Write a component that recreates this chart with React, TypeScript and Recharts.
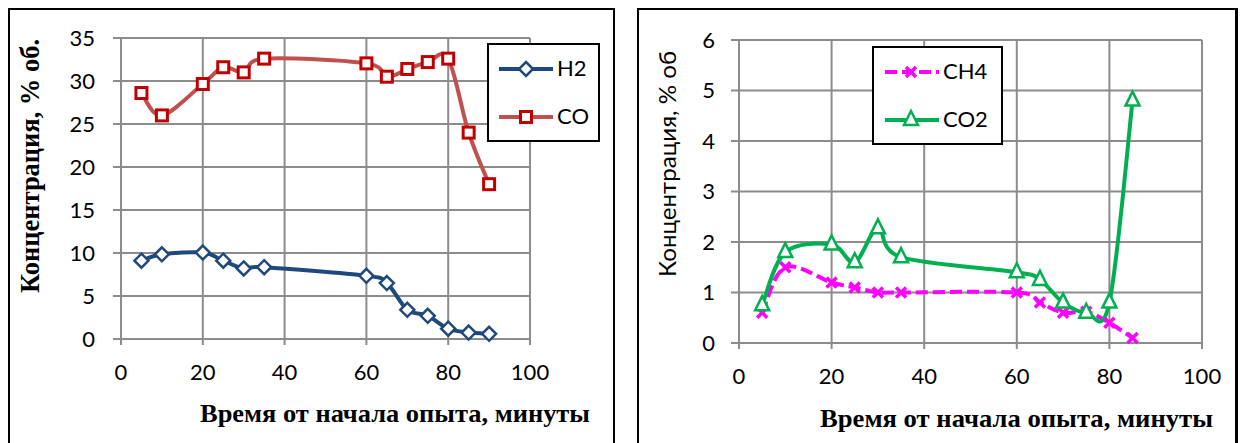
import React from 'react';
import { LineChart, Line, XAxis, YAxis, CartesianGrid } from 'recharts';

// time from start of the run, minutes
const leftMinutes = [5, 10, 20, 25, 30, 35, 60, 65, 70, 75, 80, 85, 90];
const h2Values = [9.1, 9.85, 10.05, 9.1, 8.2, 8.35, 7.35, 6.5, 3.4, 2.7, 1.2, 0.75, 0.6];
const coValues = [28.6, 26.0, 29.65, 31.6, 31.0, 32.6, 32.05, 30.5, 31.4, 32.2, 32.6, 24.0, 18.0];

const rightMinutes = [5, 10, 20, 25, 30, 35, 60, 65, 70, 75, 80, 85];
const ch4Values = [0.6, 1.5, 1.2, 1.1, 1.0, 1.0, 1.0, 0.8, 0.6, 0.62, 0.4, 0.1];
const co2Values = [0.75, 1.8, 1.95, 1.6, 2.27, 1.7, 1.4, 1.25, 0.8, 0.6, 0.8, 4.8];

const xTicks = [0, 20, 40, 60, 80, 100];
const leftYTicks = [0, 5, 10, 15, 20, 25, 30, 35];
const rightYTicks = [0, 1, 2, 3, 4, 5, 6];

const xTitle = 'Время от начала опыта, минуты';
const leftYTitle = 'Концентрация, % об.';
const rightYTitle = 'Концентрация, % об';

const leftData = leftMinutes.map((x, i) => ({ x, h2: h2Values[i], co: coValues[i] }));
const rightData = rightMinutes.map((x, i) => ({ x, ch4: ch4Values[i], co2: co2Values[i] }));

const SANS = 'Lato, "Open Sans", sans-serif';
const SERIF = '"Liberation Serif", "DejaVu Serif", serif';
const GRID = '#8c8c8c';

const H2_COLOR = '#1F497D';
const CO_LINE = '#C0504D';
const CO_MARK = '#C00000';
const CH4_COLOR = '#FF00FF';
const CO2_COLOR = '#00B050';

// Excel-like smoothed line (Catmull-Rom through the points)
const excelSmooth = (context: any) => {
  let pts: number[][] = [];
  return {
    areaStart() {},
    areaEnd() {},
    lineStart() {
      pts = [];
    },
    point(x: number, y: number) {
      pts.push([+x, +y]);
    },
    lineEnd() {
      const n = pts.length;
      if (!n) return;
      context.moveTo(pts[0][0], pts[0][1]);
      for (let i = 0; i < n - 1; i++) {
        const p0 = pts[Math.max(i - 1, 0)];
        const p1 = pts[i];
        const p2 = pts[i + 1];
        const p3 = pts[Math.min(i + 2, n - 1)];
        context.bezierCurveTo(
          p1[0] + (p2[0] - p0[0]) / 6,
          p1[1] + (p2[1] - p0[1]) / 6,
          p2[0] - (p3[0] - p1[0]) / 6,
          p2[1] - (p3[1] - p1[1]) / 6,
          p2[0],
          p2[1]
        );
      }
    },
  };
};

// markers
const Diamond = ({ cx, cy }: any) => (
  <path d={`M${cx},${cy - 7} L${cx + 7},${cy} L${cx},${cy + 7} L${cx - 7},${cy} Z`} fill="#fff" stroke={H2_COLOR} strokeWidth={2.5} />
);
const Square = ({ cx, cy }: any) => (
  <rect x={cx - 5.5} y={cy - 5.5} width={11} height={11} fill="#fff" stroke={CO_MARK} strokeWidth={3} />
);
const Cross = ({ cx, cy }: any) => (
  <path d={`M${cx - 5},${cy - 5} L${cx + 5},${cy + 5} M${cx + 5},${cy - 5} L${cx - 5},${cy + 5}`} stroke={CH4_COLOR} strokeWidth={3.5} fill="none" />
);
const Triangle = ({ cx, cy }: any) => (
  <path d={`M${cx},${cy - 9} L${cx + 7},${cy + 5} L${cx - 7},${cy + 5} Z`} fill="#fff" stroke={CO2_COLOR} strokeWidth={2.5} />
);

const dotOf = (Comp: any) => (props: any) => <Comp key={`d-${props.index}`} cx={props.cx} cy={props.cy} />;

const tickStyle = { fill: '#000', fontSize: 22, fontFamily: SANS };

export default function App() {
  return (
    <div style={{ position: 'absolute', left: 0, top: 0, width: 1240, height: 443, overflow: 'hidden', background: '#fff' }}>
      {/* panel frames */}
      <div style={{ position: 'absolute', left: 8, top: 8, width: 607, height: 480, border: '2px solid #000', boxSizing: 'border-box' }} />
      <div style={{ position: 'absolute', left: 637, top: 8, width: 601, height: 480, border: '2px solid #000', borderRightWidth: 3, boxSizing: 'border-box' }} />

      {/* left chart: H2, CO */}
      <div style={{ position: 'absolute', left: 0, top: 0 }}>
        <LineChart width={620} height={443} data={leftData} margin={{ top: 38, right: 90, bottom: 74, left: 81 }}>
          <CartesianGrid stroke={GRID} strokeWidth={2} />
          <XAxis
            type="number"
            dataKey="x"
            domain={[0, 100]}
            ticks={xTicks}
            height={30}
            tick={tickStyle}
            tickSize={6}
            tickMargin={19}
            stroke={GRID}
            strokeWidth={2}
          />
          <YAxis
            type="number"
            domain={[0, 35]}
            ticks={leftYTicks}
            width={40}
            tick={tickStyle}
            tickSize={8}
            tickMargin={18}
            stroke={GRID}
            strokeWidth={2}
          />
          <Line dataKey="h2" type={excelSmooth as any} stroke={H2_COLOR} strokeWidth={4} dot={dotOf(Diamond)} activeDot={false} isAnimationActive={false} />
          <Line dataKey="co" type={excelSmooth as any} stroke={CO_LINE} strokeWidth={4} dot={dotOf(Square)} activeDot={false} isAnimationActive={false} />
        </LineChart>
      </div>

      {/* right chart: CH4, CO2 */}
      <div style={{ position: 'absolute', left: 620, top: 0 }}>
        <LineChart width={620} height={443} data={rightData} margin={{ top: 40, right: 38, bottom: 70, left: 79 }}>
          <CartesianGrid stroke={GRID} strokeWidth={2} />
          <XAxis
            type="number"
            dataKey="x"
            domain={[0, 100]}
            ticks={xTicks}
            height={30}
            tick={tickStyle}
            tickSize={6}
            tickMargin={19}
            stroke={GRID}
            strokeWidth={2}
          />
          <YAxis
            type="number"
            domain={[0, 6]}
            ticks={rightYTicks}
            width={40}
            tick={tickStyle}
            tickSize={8}
            tickMargin={16}
            stroke={GRID}
            strokeWidth={2}
          />
          <Line dataKey="ch4" type={excelSmooth as any} stroke={CH4_COLOR} strokeWidth={4} strokeDasharray="12 5" dot={dotOf(Cross)} activeDot={false} isAnimationActive={false} />
          <Line dataKey="co2" type={excelSmooth as any} stroke={CO2_COLOR} strokeWidth={4} dot={dotOf(Triangle)} activeDot={false} isAnimationActive={false} />
        </LineChart>
      </div>

      {/* titles and legends */}
      <svg width={1240} height={443} style={{ position: 'absolute', left: 0, top: 0, pointerEvents: 'none' }}>
        <text x={200} y={422} fontFamily={SERIF} fontWeight="bold" fontSize={25} textLength={390} lengthAdjust="spacingAndGlyphs">{xTitle}</text>
        <text x={820} y={427} fontFamily={SERIF} fontWeight="bold" fontSize={25} textLength={393} lengthAdjust="spacingAndGlyphs">{xTitle}</text>
        <text transform="translate(39,293) rotate(-90)" fontFamily={SERIF} fontWeight="bold" fontSize={27} textLength={254} lengthAdjust="spacingAndGlyphs">{leftYTitle}</text>
        <text transform="translate(676,277) rotate(-90)" fontFamily={SANS} fontSize={23} textLength={226} lengthAdjust="spacingAndGlyphs">{rightYTitle}</text>

        {/* left legend */}
        <rect x={488} y={44} width={111} height={97} fill="#fff" stroke="#000" strokeWidth={2} />
        <line x1={499} y1={69} x2={553} y2={69} stroke={H2_COLOR} strokeWidth={4} />
        <Diamond cx={526} cy={69} />
        <text x={557} y={76} fontFamily={SANS} fontSize={22}>H2</text>
        <line x1={499} y1={117} x2={553} y2={117} stroke={CO_LINE} strokeWidth={4} />
        <Square cx={526} cy={117} />
        <text x={557} y={124} fontFamily={SANS} fontSize={22}>CO</text>

        {/* right legend */}
        <rect x={873} y={47} width={129} height={97} fill="#fff" stroke="#000" strokeWidth={2} />
        <line x1={885} y1={72} x2={939} y2={72} stroke={CH4_COLOR} strokeWidth={4} strokeDasharray="12 5" />
        <Cross cx={911} cy={72} />
        <text x={943} y={79} fontFamily={SANS} fontSize={22}>CH4</text>
        <line x1={885} y1={120} x2={939} y2={120} stroke={CO2_COLOR} strokeWidth={4} />
        <Triangle cx={911} cy={120} />
        <text x={943} y={127} fontFamily={SANS} fontSize={22}>CO2</text>
      </svg>
    </div>
  );
}
